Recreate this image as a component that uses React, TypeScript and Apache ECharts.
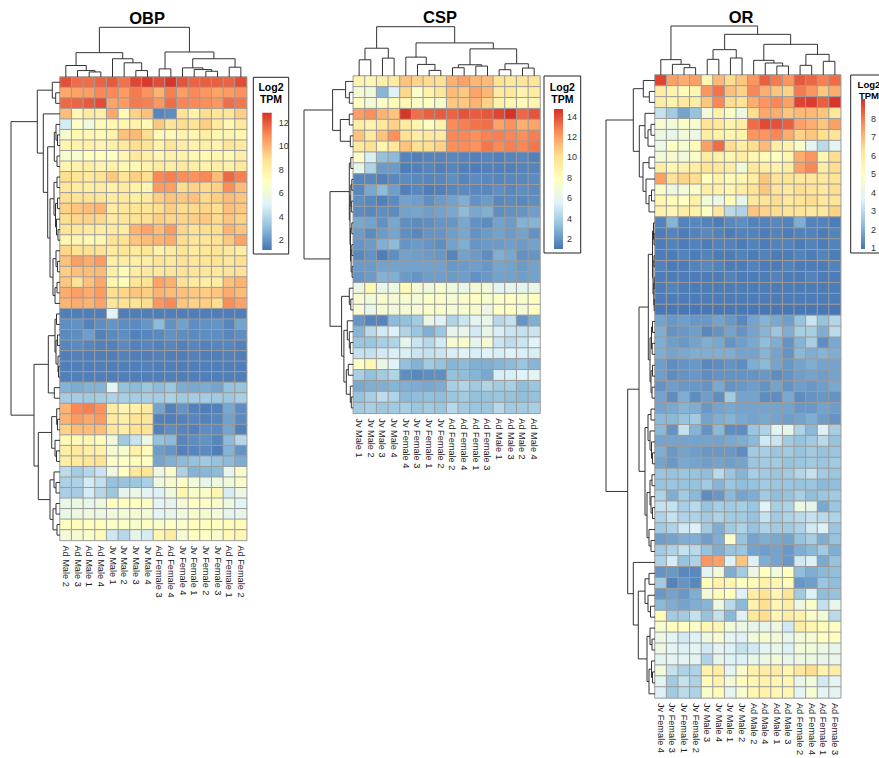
import React, { useEffect, useRef } from "react";
import * as echarts from "echarts";

const FONT = "'Liberation Sans', Arial, Helvetica, sans-serif";
const PALETTE = ["#4575B4", "#91BFDB", "#E0F3F8", "#FFFFBF", "#FEE090", "#FC8D59", "#D73027"];

type Tree = number | [number, Tree, Tree];

// ---------------- OBP ----------------
const obpCols = ["Ad Male 2", "Ad Male 3", "Ad Male 1", "Ad Male 4", "Jv Male 1", "Jv Male 2", "Jv Male 3", "Jv Male 4", "Ad Female 3", "Ad Female 4", "Jv Female 4", "Jv Female 1", "Jv Female 2", "Jv Female 3", "Ad Female 1", "Ad Female 2"];
const obpValues: number[][] = [
  [12.2, 11.6, 11.6, 11.8, 12.0, 11.5, 12.4, 12.7, 12.3, 12.8, 12.1, 11.8, 11.9, 11.9, 11.8, 12.3],
  [10.3, 10.4, 10.5, 11.0, 11.0, 10.6, 11.3, 10.8, 10.0, 11.2, 10.5, 11.0, 10.7, 10.4, 10.6, 10.8],
  [11.7, 11.8, 12.0, 12.3, 10.4, 10.6, 11.3, 11.2, 10.7, 11.6, 11.1, 11.0, 10.9, 10.7, 11.6, 11.4],
  [9.8, 7.5, 8.3, 8.0, 10.3, 7.3, 9.3, 9.7, 1.6, 1.8, 8.8, 7.8, 9.0, 8.6, 8.6, 9.4],
  [4.8, 6.8, 6.0, 7.3, 7.5, 7.6, 7.8, 7.3, 9.5, 8.5, 9.0, 8.6, 9.4, 8.3, 7.5, 8.4],
  [6.5, 7.4, 7.5, 7.4, 7.8, 9.7, 9.9, 9.0, 7.3, 7.4, 7.7, 7.6, 8.0, 7.6, 7.7, 7.6],
  [7.6, 7.8, 7.9, 7.7, 8.0, 8.4, 9.0, 8.7, 7.8, 8.6, 8.1, 7.8, 8.0, 7.7, 8.6, 8.3],
  [6.5, 6.5, 7.0, 7.0, 6.8, 7.6, 8.4, 8.0, 7.5, 7.8, 7.8, 7.6, 7.4, 7.6, 7.4, 8.0],
  [7.6, 7.8, 8.0, 7.7, 7.9, 7.5, 7.4, 7.8, 8.2, 8.0, 8.3, 8.1, 7.8, 8.0, 7.9, 8.4],
  [9.0, 8.6, 8.4, 8.7, 9.5, 8.6, 9.4, 9.0, 11.0, 11.2, 10.9, 10.8, 11.0, 9.8, 11.7, 11.2],
  [8.4, 8.2, 8.1, 8.2, 7.9, 8.3, 7.8, 7.6, 10.6, 10.5, 9.0, 9.3, 9.1, 9.3, 10.9, 9.8],
  [8.9, 8.7, 8.8, 8.6, 8.2, 8.4, 8.0, 8.3, 9.4, 9.6, 9.5, 9.7, 9.1, 9.4, 9.8, 9.6],
  [9.3, 9.6, 9.8, 10.0, 8.2, 8.5, 8.7, 8.6, 9.0, 9.4, 9.0, 9.1, 9.2, 8.9, 9.7, 9.5],
  [9.0, 9.2, 9.3, 9.1, 8.3, 8.5, 8.8, 8.9, 9.4, 9.2, 9.2, 9.4, 9.5, 9.1, 9.6, 9.3],
  [8.6, 8.5, 8.3, 8.2, 8.3, 8.2, 10.0, 10.4, 9.8, 10.6, 9.2, 8.8, 9.0, 9.0, 10.0, 9.6],
  [7.6, 7.7, 7.4, 7.6, 8.7, 8.8, 9.6, 9.8, 10.0, 10.2, 9.0, 8.6, 8.5, 8.8, 9.5, 10.4],
  [9.2, 8.8, 8.9, 8.8, 8.3, 8.6, 8.4, 8.6, 7.8, 8.2, 8.6, 8.3, 8.5, 8.7, 8.4, 8.0],
  [9.7, 10.5, 10.2, 10.6, 8.0, 8.2, 8.0, 8.1, 8.6, 8.4, 8.8, 8.5, 8.6, 8.7, 8.5, 8.9],
  [9.4, 9.7, 9.8, 9.9, 8.0, 7.4, 8.2, 8.4, 8.4, 8.6, 8.8, 8.6, 8.5, 8.4, 8.7, 8.8],
  [9.6, 8.7, 9.7, 10.3, 7.6, 7.2, 8.6, 8.8, 10.4, 10.1, 8.8, 8.3, 8.0, 8.2, 9.7, 10.0],
  [10.2, 10.5, 10.2, 10.6, 9.0, 9.2, 9.6, 9.4, 10.0, 9.8, 9.7, 9.5, 9.4, 9.6, 10.2, 9.8],
  [10.0, 10.2, 10.0, 10.4, 8.6, 8.8, 8.7, 9.0, 10.7, 11.0, 9.6, 9.3, 9.4, 9.0, 10.9, 10.4],
  [1.4, 1.4, 1.4, 1.4, 5.2, 1.4, 1.4, 1.4, 1.4, 1.4, 1.4, 1.4, 1.4, 1.4, 1.4, 1.4],
  [1.8, 1.9, 1.5, 1.8, 2.0, 1.8, 1.7, 2.0, 3.0, 1.9, 2.3, 1.8, 1.9, 2.0, 1.6, 2.4],
  [1.7, 1.8, 2.2, 1.5, 1.7, 1.8, 1.5, 1.6, 1.7, 1.9, 1.8, 1.7, 1.8, 1.8, 1.6, 1.8],
  [1.6, 1.7, 1.6, 1.5, 1.5, 1.7, 1.5, 1.6, 1.5, 1.6, 1.5, 1.6, 1.5, 1.6, 1.6, 1.5],
  [1.4, 1.5, 1.4, 1.4, 1.4, 1.5, 1.4, 1.4, 1.5, 1.4, 1.4, 1.5, 1.4, 1.4, 1.5, 1.4],
  [1.4, 1.4, 1.4, 1.4, 1.4, 1.4, 1.4, 1.5, 1.4, 1.4, 1.4, 1.4, 1.4, 1.4, 1.4, 1.4],
  [1.4, 1.4, 1.4, 1.4, 1.4, 1.4, 1.4, 1.4, 1.4, 1.4, 1.4, 1.4, 1.4, 1.4, 1.4, 1.4],
  [2.8, 2.6, 2.8, 2.8, 5.2, 3.2, 3.0, 3.4, 3.0, 3.4, 2.6, 2.5, 2.6, 2.4, 3.2, 3.3],
  [3.6, 3.6, 3.5, 3.6, 3.8, 3.7, 3.6, 3.7, 3.6, 3.8, 3.5, 3.6, 3.6, 3.5, 3.4, 3.7],
  [10.0, 11.0, 11.2, 10.8, 8.2, 7.6, 7.9, 8.2, 2.4, 1.5, 2.0, 1.5, 1.4, 1.5, 2.5, 1.8],
  [10.0, 10.6, 10.3, 10.6, 8.3, 8.0, 8.6, 8.5, 1.5, 1.4, 1.5, 1.6, 1.5, 1.6, 2.3, 1.7],
  [9.3, 9.8, 9.8, 9.8, 8.5, 8.2, 8.8, 8.8, 1.5, 1.8, 1.6, 1.5, 1.8, 1.7, 2.4, 1.5],
  [7.3, 7.4, 7.5, 7.1, 6.0, 3.5, 4.5, 5.8, 3.2, 3.0, 1.6, 1.8, 1.9, 1.6, 3.0, 4.0],
  [8.0, 8.4, 8.0, 7.8, 6.4, 6.6, 7.8, 7.2, 2.2, 2.0, 1.5, 1.6, 1.7, 1.4, 2.8, 2.0],
  [8.0, 8.3, 8.6, 8.8, 6.8, 6.9, 7.2, 7.0, 2.4, 2.7, 3.0, 3.2, 3.5, 3.2, 3.0, 2.6],
  [4.2, 3.6, 4.0, 4.5, 6.0, 7.0, 8.4, 8.6, 5.8, 6.6, 3.8, 2.8, 2.9, 3.0, 5.5, 6.6],
  [3.8, 3.8, 4.8, 4.3, 3.2, 3.3, 3.4, 3.7, 6.0, 6.5, 6.8, 6.2, 5.5, 6.0, 6.0, 6.6],
  [3.7, 3.6, 4.8, 4.0, 3.4, 5.4, 5.7, 5.2, 5.0, 6.0, 7.6, 6.6, 6.7, 7.6, 4.8, 5.8],
  [5.6, 5.8, 5.5, 5.9, 7.0, 7.0, 7.0, 6.8, 5.2, 5.4, 6.2, 7.0, 6.8, 6.6, 5.8, 5.2],
  [5.7, 5.9, 6.0, 5.8, 6.0, 6.3, 6.4, 6.2, 5.2, 5.5, 6.0, 6.6, 6.4, 6.2, 5.4, 5.5],
  [7.0, 7.2, 7.0, 7.1, 6.8, 6.8, 6.6, 6.9, 6.6, 6.8, 6.7, 7.1, 7.0, 7.0, 7.2, 7.2],
  [6.2, 6.4, 6.7, 7.3, 4.6, 4.0, 5.4, 4.8, 7.6, 8.2, 6.4, 7.0, 6.8, 6.6, 7.4, 7.6],
];
const obpColTree: Tree = [147, [72, [34, 0, [19, 1, [15, 2, 3]]], [54, 4, [42, 5, [19, 6, 7]]]], [74, [24, 8, 9], [54, [27, 10, [22, 11, [17, 12, 13]]], [29, 14, 15]]]];
const obpRowTree: Tree = [49,
  [22.7, [7.7, 0, [4.3, 1, 2]], [16.7, 3, [12.3, [5.7, [4, 4, [2.5, 5, 6]], [3, 7, 8]], [10, [6, [3, 9, 10], [4.5, [2.5, 11, 12], [3.5, 13, [2, 14, 15]]]], [7, [4, 16, [2.5, 17, 18]], [5, [3, 19, 20], 21]]]]]],
  [26, [11.7, [5, [3.5, 22, 23], [4, [2.5, 24, 25], [2, 26, [1.5, 27, 28]]]], [5.7, 29, 30]], [21.7, [8.3, [3.3, 31, [2.5, 32, 33]], [5, 34, [3.5, 35, 36]]], [10, [6, 37, [4, 38, 39]], [7, [4, 40, 41], [3, 42, 43]]]]]];
const obpTicks = [2, 4, 6, 8, 10, 12];
const obpRange = [1.15, 12.88];

// ---------------- CSP ----------------
const cspCols = ["Jv Male 1", "Jv Male 2", "Jv Male 3", "Jv Male 4", "Jv Female 4", "Jv Female 3", "Jv Female 1", "Jv Female 2", "Ad Female 2", "Ad Female 4", "Ad Female 1", "Ad Female 3", "Ad Male 1", "Ad Male 3", "Ad Male 2", "Ad Male 4"];
const cspValues: number[][] = [
  [8.7, 8.4, 9.0, 9.3, 11.0, 10.5, 10.3, 10.0, 11.5, 11.9, 11.3, 11.2, 10.0, 9.6, 9.8, 9.9],
  [7.0, 6.8, 3.0, 5.5, 10.4, 7.6, 8.8, 9.6, 11.2, 10.8, 11.8, 11.3, 9.4, 9.6, 8.8, 9.3],
  [7.8, 7.0, 7.5, 8.2, 8.4, 7.6, 7.8, 7.3, 10.8, 10.8, 11.4, 10.6, 8.8, 8.5, 8.2, 8.6],
  [12.0, 12.4, 11.4, 11.0, 14.6, 13.2, 13.6, 13.7, 13.5, 13.9, 13.7, 13.8, 14.2, 14.7, 13.4, 13.9],
  [9.2, 8.6, 9.5, 10.6, 9.4, 8.6, 7.8, 8.8, 12.5, 12.8, 13.1, 13.2, 11.8, 12.3, 11.5, 11.8],
  [11.0, 9.5, 11.0, 12.4, 10.1, 9.2, 9.5, 9.4, 12.6, 12.6, 12.4, 12.7, 12.8, 12.6, 12.4, 12.8],
  [9.5, 10.0, 8.6, 9.6, 11.0, 10.0, 10.2, 10.6, 12.4, 12.5, 12.3, 13.0, 12.5, 12.8, 12.6, 13.0],
  [7.6, 5.4, 3.4, 3.2, 1.5, 1.4, 1.5, 1.5, 1.6, 1.5, 1.4, 1.5, 1.4, 1.5, 1.6, 1.4],
  [6.2, 4.2, 2.2, 2.2, 1.3, 1.4, 1.5, 1.4, 1.5, 1.4, 1.3, 1.4, 1.4, 1.4, 1.5, 1.5],
  [1.5, 1.6, 1.4, 1.6, 1.7, 1.6, 1.5, 1.6, 1.8, 1.5, 1.7, 1.6, 1.5, 1.6, 1.6, 1.7],
  [1.6, 2.6, 3.2, 2.3, 1.4, 1.6, 1.3, 1.4, 1.6, 1.7, 1.6, 1.6, 1.8, 1.6, 1.8, 1.7],
  [1.8, 1.6, 1.4, 1.7, 2.4, 2.3, 1.8, 2.2, 2.4, 2.8, 1.9, 2.2, 1.6, 1.7, 1.6, 1.8],
  [1.7, 1.6, 1.8, 1.7, 2.4, 2.5, 2.3, 2.4, 2.6, 3.2, 2.6, 2.8, 1.8, 1.9, 2.0, 2.3],
  [2.6, 2.4, 1.9, 2.6, 1.8, 1.7, 1.8, 2.0, 2.0, 2.6, 1.9, 1.7, 2.4, 2.2, 2.9, 3.0],
  [2.2, 1.7, 2.2, 2.5, 1.8, 1.6, 2.0, 2.0, 2.3, 2.6, 1.9, 2.2, 2.4, 2.2, 2.4, 1.9],
  [2.0, 2.2, 2.8, 3.2, 2.0, 2.2, 2.0, 1.8, 2.4, 2.8, 2.0, 2.2, 2.2, 2.3, 2.2, 2.4],
  [1.6, 1.9, 1.3, 1.8, 2.4, 2.3, 2.2, 2.1, 1.5, 2.4, 2.2, 1.8, 2.8, 2.6, 1.9, 2.0],
  [2.2, 2.2, 2.4, 2.4, 2.4, 2.4, 2.4, 2.4, 2.1, 2.2, 2.3, 2.1, 2.5, 2.4, 2.2, 2.4],
  [2.0, 2.2, 2.9, 2.8, 2.2, 2.0, 2.3, 2.3, 2.2, 2.3, 1.9, 2.1, 2.4, 2.4, 2.3, 2.4],
  [6.4, 8.5, 6.2, 6.5, 8.2, 7.0, 6.6, 7.2, 6.6, 6.3, 7.0, 6.8, 5.8, 6.2, 6.0, 6.3],
  [7.2, 6.8, 7.4, 7.0, 7.2, 7.0, 7.6, 7.5, 7.0, 7.5, 7.7, 7.3, 7.6, 7.8, 7.4, 7.8],
  [7.2, 6.2, 7.1, 6.8, 7.0, 7.0, 7.5, 7.4, 7.0, 7.3, 7.3, 6.4, 7.7, 7.8, 7.0, 7.7],
  [2.0, 1.5, 1.5, 3.2, 3.4, 3.8, 6.4, 5.6, 4.2, 5.0, 5.8, 6.2, 4.4, 4.8, 2.0, 2.8],
  [3.0, 4.5, 5.2, 5.5, 4.2, 3.6, 2.8, 3.6, 6.0, 6.2, 5.2, 6.2, 5.4, 5.0, 4.8, 5.0],
  [3.6, 3.6, 4.0, 4.2, 6.0, 5.0, 4.4, 5.2, 7.2, 7.4, 6.0, 7.0, 5.0, 4.6, 5.0, 5.6],
  [4.8, 4.8, 5.2, 5.4, 5.4, 5.0, 4.8, 5.0, 5.4, 5.6, 5.4, 5.6, 5.4, 5.6, 5.4, 5.4],
  [7.6, 8.4, 6.4, 5.6, 3.4, 2.9, 3.8, 3.5, 3.0, 3.2, 2.8, 2.8, 3.0, 3.2, 3.6, 3.0],
  [4.0, 3.4, 3.8, 4.2, 1.8, 1.6, 1.8, 1.8, 3.4, 3.3, 3.0, 2.6, 5.4, 5.4, 5.6, 5.8],
  [2.6, 2.8, 2.8, 3.0, 2.8, 2.7, 2.6, 2.7, 4.0, 4.2, 3.8, 4.2, 3.8, 4.0, 3.3, 3.6],
  [3.5, 4.0, 4.6, 4.2, 3.2, 3.3, 3.4, 3.3, 3.6, 3.8, 3.4, 3.5, 3.6, 3.5, 3.3, 3.4],
  [3.8, 4.0, 3.7, 3.8, 4.0, 3.6, 3.8, 3.6, 4.4, 3.8, 3.6, 3.6, 4.4, 3.8, 3.8, 4.0],
];
const cspColTree: Tree = [149, [84, [49, 0, 1], [54, 2, 3]], [100, [57, 4, [35, 5, [17, 6, 7]]], [82, [34, [25, 8, 9], [30, 10, 11]], [37, [19, 12, 13], [24, 14, 15]]]]];
const cspRowTree: Tree = [49.3,
  [20.7, [7.7, 0, [4, 1, 2]], [13, [4, 3, 4], [3, 5, 6]]],
  [23.3, [4, [2.5, 7, 8], [3.3, [2.5, [1.5, 9, 10], [2, 11, 12]], [2.8, [1.5, 13, 14], [2.2, [1.5, 15, 16], [1.2, 17, 18]]]]],
    [11.7, [4, 19, [2.5, 20, 21]], [9.4, [6, 22, [4, 23, [3, 24, 25]]], [7, [5, 26, 27], [3, 28, [2, 29, 30]]]]]]];
const cspTicks = [2, 4, 6, 8, 10, 12, 14];
const cspRange = [1.02, 14.75];

// ---------------- OR ----------------
const orCols = ["Jv Female 4", "Jv Female 3", "Jv Female 1", "Jv Female 2", "Jv Male 3", "Jv Male 4", "Jv Male 1", "Jv Male 2", "Ad Male 2", "Ad Male 4", "Ad Male 1", "Ad Male 3", "Ad Female 2", "Ad Female 4", "Ad Female 1", "Ad Female 3"];
const orValues: number[][] = [
  [8.8, 7.4, 7.2, 7.4, 5.4, 7.0, 6.4, 6.8, 7.6, 8.4, 8.0, 7.6, 8.5, 8.3, 7.9, 8.2],
  [5.8, 5.5, 5.2, 5.4, 7.6, 8.1, 6.9, 6.6, 7.8, 7.2, 6.8, 6.6, 8.0, 7.6, 6.8, 7.2],
  [5.8, 5.6, 6.0, 5.8, 6.8, 7.8, 6.4, 6.2, 7.2, 7.6, 7.8, 7.4, 8.8, 8.9, 8.4, 9.0],
  [3.2, 2.6, 1.8, 2.4, 4.4, 5.6, 4.8, 4.2, 6.4, 7.3, 7.2, 6.8, 7.0, 7.0, 6.8, 6.0],
  [4.6, 4.4, 4.8, 4.6, 6.2, 6.0, 5.6, 5.8, 8.2, 8.7, 8.6, 8.4, 7.4, 7.2, 6.8, 7.4],
  [4.2, 4.0, 4.4, 4.2, 5.8, 5.6, 5.4, 5.6, 7.6, 7.6, 7.8, 7.2, 6.6, 6.8, 6.4, 6.2],
  [4.2, 5.0, 4.6, 5.2, 7.4, 8.2, 6.4, 5.8, 6.4, 7.0, 5.8, 5.6, 4.8, 3.8, 3.0, 3.8],
  [4.4, 4.6, 4.4, 4.8, 5.8, 5.6, 5.4, 5.8, 5.4, 5.2, 5.0, 5.4, 7.2, 7.6, 5.4, 6.4],
  [5.8, 5.4, 5.6, 5.8, 6.2, 6.0, 5.8, 4.4, 6.0, 5.8, 5.6, 5.8, 7.4, 7.8, 5.8, 6.4],
  [7.4, 6.2, 6.6, 6.4, 5.0, 5.6, 5.2, 5.4, 5.8, 6.8, 6.2, 6.2, 6.0, 6.0, 6.0, 6.2],
  [4.8, 4.2, 4.4, 4.8, 5.8, 5.6, 5.4, 5.8, 6.2, 6.8, 6.2, 6.0, 6.4, 6.2, 6.0, 6.4],
  [5.4, 5.2, 5.0, 5.6, 4.4, 4.2, 5.2, 4.0, 6.0, 6.2, 6.4, 6.0, 6.2, 6.4, 6.0, 6.2],
  [5.6, 5.4, 5.8, 5.6, 5.0, 6.0, 3.0, 2.8, 6.8, 6.6, 6.4, 6.2, 6.2, 6.0, 6.0, 6.6],
  [1.2, 2.1, 1.2, 1.3, 1.2, 1.1, 1.3, 1.4, 1.2, 1.2, 1.3, 1.2, 2.0, 1.2, 1.2, 1.1],
  [1.1, 1.2, 1.1, 1.2, 1.3, 1.2, 1.1, 1.2, 1.2, 1.1, 1.2, 1.1, 1.2, 1.2, 1.1, 1.2],
  [1.1, 1.2, 1.1, 1.2, 1.1, 1.2, 1.2, 1.1, 1.2, 1.1, 1.2, 1.2, 1.1, 1.2, 1.1, 1.2],
  [1.1, 1.1, 1.2, 1.1, 1.2, 1.1, 1.1, 1.2, 1.1, 1.2, 1.1, 1.1, 1.2, 1.1, 1.2, 1.1],
  [1.2, 1.1, 1.1, 1.2, 1.3, 1.2, 1.1, 1.1, 1.2, 1.1, 1.1, 1.2, 1.1, 1.1, 1.1, 1.2],
  [1.1, 1.1, 1.1, 1.1, 1.1, 1.1, 1.2, 1.1, 1.1, 1.1, 1.2, 1.1, 1.1, 1.2, 1.1, 1.1],
  [1.1, 1.2, 1.1, 1.1, 1.1, 1.1, 1.1, 1.1, 1.1, 1.1, 1.1, 1.1, 1.1, 1.1, 1.1, 1.1],
  [1.1, 1.1, 1.1, 1.1, 1.1, 1.1, 1.1, 1.1, 1.1, 1.1, 1.1, 1.1, 1.1, 1.1, 1.1, 1.1],
  [1.0, 1.0, 1.0, 1.0, 1.0, 1.0, 1.0, 1.0, 1.0, 1.0, 1.0, 1.0, 1.0, 1.0, 1.0, 1.0],
  [1.8, 1.6, 1.7, 1.6, 1.6, 1.8, 1.6, 1.3, 1.8, 2.1, 1.9, 1.7, 2.4, 3.3, 2.4, 2.9],
  [2.0, 1.5, 1.6, 1.7, 1.3, 1.5, 1.8, 1.5, 1.8, 2.1, 2.5, 2.0, 2.7, 2.7, 2.0, 3.0],
  [2.0, 1.7, 1.6, 1.8, 2.0, 1.9, 1.5, 1.7, 1.9, 2.3, 2.0, 1.5, 2.1, 2.7, 1.4, 1.9],
  [2.0, 1.8, 1.9, 2.0, 2.0, 2.0, 2.0, 1.8, 1.8, 2.1, 1.8, 1.5, 2.2, 2.0, 2.1, 2.0],
  [1.7, 1.4, 1.5, 1.6, 1.3, 1.4, 1.5, 1.4, 2.0, 2.2, 1.8, 1.6, 1.8, 2.0, 1.8, 1.8],
  [1.7, 1.4, 1.5, 1.6, 1.4, 1.5, 1.5, 1.5, 1.5, 1.6, 1.4, 1.5, 1.7, 1.8, 1.7, 1.8],
  [1.5, 1.7, 1.6, 1.6, 1.5, 1.9, 1.5, 1.6, 1.7, 1.5, 1.8, 1.5, 1.7, 1.6, 1.7, 1.9],
  [1.8, 1.4, 2.0, 1.4, 1.7, 1.4, 2.6, 1.8, 1.8, 1.4, 1.4, 1.9, 1.4, 1.5, 1.6, 1.5],
  [1.8, 1.9, 2.1, 2.0, 1.6, 1.8, 1.9, 1.8, 1.8, 1.8, 1.8, 1.8, 1.6, 1.6, 1.8, 1.7],
  [2.2, 2.2, 2.4, 2.6, 1.8, 2.0, 2.1, 1.9, 1.8, 1.9, 1.8, 1.7, 1.8, 2.0, 1.7, 1.5],
  [2.2, 1.5, 3.2, 2.1, 1.5, 2.2, 1.4, 1.4, 2.5, 2.8, 3.8, 3.9, 2.8, 2.2, 3.6, 2.7],
  [1.8, 1.8, 1.8, 1.8, 1.8, 1.8, 1.9, 2.0, 2.2, 3.4, 3.3, 2.6, 2.4, 2.6, 3.0, 2.4],
  [2.0, 1.6, 1.8, 1.7, 1.6, 1.6, 1.6, 1.4, 2.6, 2.7, 2.5, 2.6, 2.4, 2.6, 2.4, 2.5],
  [1.8, 1.6, 1.9, 1.8, 1.7, 1.8, 1.7, 1.8, 2.5, 2.6, 2.6, 2.4, 2.5, 2.6, 2.5, 2.6],
  [2.5, 2.4, 2.5, 2.4, 2.3, 3.0, 2.5, 2.1, 2.7, 2.6, 2.5, 2.6, 2.9, 3.2, 2.6, 2.5],
  [2.4, 2.5, 2.4, 2.4, 2.6, 2.1, 2.5, 2.3, 2.4, 2.6, 2.5, 2.5, 2.4, 2.5, 2.2, 2.3],
  [2.8, 2.0, 2.6, 2.2, 1.4, 1.6, 2.2, 1.8, 2.0, 2.6, 2.3, 2.4, 2.7, 2.3, 2.5, 2.6],
  [3.2, 3.2, 2.7, 3.0, 2.4, 2.7, 2.6, 2.7, 2.5, 3.7, 2.7, 2.8, 4.2, 3.9, 1.9, 2.5],
  [2.8, 3.2, 2.8, 2.8, 2.6, 2.8, 2.6, 2.6, 2.4, 3.2, 2.6, 2.8, 3.0, 3.2, 3.0, 2.8],
  [2.6, 2.8, 3.4, 3.6, 2.6, 2.0, 2.6, 2.8, 2.4, 2.8, 2.6, 2.6, 2.8, 3.4, 3.6, 2.5],
  [1.7, 1.8, 2.0, 2.0, 1.7, 2.0, 4.8, 2.4, 1.8, 2.0, 1.9, 1.8, 2.4, 2.7, 2.0, 2.4],
  [2.6, 2.8, 3.2, 3.0, 2.4, 2.0, 2.4, 2.5, 1.8, 1.7, 1.8, 1.6, 2.0, 2.2, 2.6, 2.0],
  [2.8, 3.5, 2.4, 2.8, 7.6, 7.4, 3.6, 6.8, 3.6, 2.0, 1.8, 1.6, 3.4, 3.6, 1.9, 2.4],
  [1.5, 1.6, 1.3, 1.3, 3.8, 4.4, 2.0, 2.6, 4.2, 5.0, 4.4, 5.0, 2.3, 2.0, 2.2, 2.3],
  [2.6, 1.2, 1.5, 1.3, 5.2, 5.6, 5.4, 5.0, 5.2, 5.6, 5.4, 5.2, 1.6, 1.7, 2.5, 2.3],
  [1.6, 1.8, 1.6, 2.0, 4.5, 5.2, 5.0, 3.6, 5.8, 6.2, 5.4, 6.2, 2.6, 3.6, 2.3, 2.4],
  [2.2, 2.0, 1.8, 2.0, 2.1, 4.2, 3.0, 2.2, 5.6, 6.3, 5.4, 5.8, 4.2, 4.8, 3.2, 4.0],
  [5.2, 2.6, 2.6, 3.2, 2.4, 3.2, 2.2, 3.6, 6.0, 6.4, 5.4, 5.8, 5.6, 4.8, 4.4, 3.0],
  [4.6, 5.2, 5.0, 4.8, 5.4, 5.4, 4.4, 4.2, 4.0, 3.9, 4.2, 3.4, 5.8, 5.4, 5.2, 5.0],
  [4.2, 3.8, 3.4, 3.6, 4.2, 4.6, 3.8, 3.6, 4.4, 4.6, 4.4, 4.0, 4.4, 4.6, 5.0, 5.0],
  [4.2, 3.8, 3.6, 3.8, 3.4, 3.8, 3.6, 3.2, 3.4, 3.8, 4.0, 3.6, 4.4, 4.4, 4.2, 4.0],
  [3.8, 3.8, 3.8, 3.8, 2.8, 4.0, 3.6, 3.6, 4.0, 4.2, 4.4, 4.0, 4.2, 4.2, 4.0, 4.0],
  [4.4, 3.2, 2.8, 2.8, 5.6, 5.8, 3.8, 4.6, 5.6, 5.8, 5.8, 5.4, 6.0, 6.4, 5.6, 5.8],
  [3.8, 2.6, 3.2, 2.8, 5.2, 5.6, 4.4, 5.2, 5.4, 5.6, 5.4, 5.4, 4.0, 4.4, 3.4, 3.8],
  [3.6, 2.6, 3.0, 2.8, 4.8, 5.2, 3.8, 4.6, 5.4, 5.6, 5.4, 5.4, 3.8, 4.6, 3.8, 3.8],
];
const orColTree: Tree = [147, [46, 0, [32, 1, [22, 2, 3]]], [122, [76, [47, 4, 5], [51, 6, 7]], [92, [44, 8, [36, 9, [27, 10, 11]]], [62, [29, 12, 13], [41, 14, 15]]]]];
const orRowTree: Tree = [49,
  [21.7, [11.7, 0, [5.7, 1, 2]], [15.7, [10, 3, [7, [4, 4, 5], 6]], [12, [6, 7, 8], [9, 9, [6, [3.5, 10, 11], 12]]]]],
  [27.3,
    [16, [6.7, [2.5, [1.5, 13, [1, 14, 15]], [2, [1, 16, 17], [1.2, [0.8, 18, 19], [0.8, 20, 21]]]], [5, [3.5, [2.5, 22, 23], [2.8, 24, 25]], [4, [2.5, 26, 27], [3, 28, 29]]]],
      [10, [7, [4, 30, 31], [5, 32, [3.5, 33, [2.5, 34, 35]]]], [8, [5, [3, 36, 37], [4, 38, [2.5, 39, 40]]], [6, 41, [4, 42, 43]]]]],
    [21.7, 44, [16.7, [10, [6, 45, 46], [7, 47, [4.5, 48, 49]]], [8, [5, 50, [3, 51, 52]], [6, [3.5, 53, [2.5, 54, 55]], 56]]]]]];
const orTicks = [1, 2, 3, 4, 5, 6, 7, 8];
const orRange = [0.95, 9.08];

// ---------------- layout ----------------
const panels = [
  {
    title: "OBP", cols: obpCols, values: obpValues, colTree: obpColTree, rowTree: obpRowTree, ticks: obpTicks, range: obpRange,
    hm: { left: 60, top: 77, width: 186.7, height: 463.4 }, topTop: 27.3, leftLeft: 11,
    titleX: 147, titleY: 17.5,
    box: { x: 253.3, y: 77.3, w: 35.4, h: 176.7 }, bar: { x: 262.3, y: 112.7, w: 9.4, h: 137.3 },
    logY: 86.7, tpmY: 99, legendFont: 10.5, labelMargin: 7,
  },
  {
    title: "CSP", cols: cspCols, values: cspValues, colTree: cspColTree, rowTree: cspRowTree, ticks: cspTicks, range: cspRange,
    hm: { left: 353.3, top: 76, width: 186.7, height: 337.3 }, topTop: 26.7, leftLeft: 304,
    titleX: 440, titleY: 16.7,
    box: { x: 544, y: 76, w: 36.7, h: 177 }, bar: { x: 554, y: 109, w: 9, h: 140 },
    logY: 86.5, tpmY: 99, legendFont: 10.5, labelMargin: 4,
  },
  {
    title: "OR", cols: orCols, values: orValues, colTree: orColTree, rowTree: orRowTree, ticks: orTicks, range: orRange,
    hm: { left: 655, top: 75, width: 185.7, height: 624.3 }, topTop: 26, leftLeft: 606,
    titleX: 741, titleY: 16.7,
    box: { x: 850.7, y: 75, w: 36.5, h: 178 }, bar: { x: 861, y: 99, w: 9, h: 150 },
    logY: 84.5, tpmY: 95.3, legendFont: 9.5, labelMargin: 6,
  },
];

function layoutTree(t: Tree, segs: number[][]): { p: number; h: number } {
  if (typeof t === "number") return { p: t + 0.5, h: 0 };
  const a = layoutTree(t[1], segs);
  const b = layoutTree(t[2], segs);
  segs.push([a.p, b.p, a.h, b.h, t[0]]);
  return { p: (a.p + b.p) / 2, h: t[0] };
}

const LINE = { stroke: "#333", lineWidth: 1, fill: "none" };

function buildOption() {
  const grid: any[] = [];
  const xAxis: any[] = [];
  const yAxis: any[] = [];
  const series: any[] = [];
  const visualMap: any[] = [];
  const elements: any[] = [];

  panels.forEach((p) => {
    const nRow = p.values.length;
    const nCol = p.cols.length;
    const { left, top, width, height } = p.hm;

    // heatmap
    let gi = grid.length;
    grid.push({ left, top, width, height });
    xAxis.push({
      type: "category", gridIndex: gi, data: p.cols, position: "bottom",
      axisLine: { show: false }, axisTick: { show: false }, splitLine: { show: false },
      axisLabel: { rotate: -90, interval: 0, fontSize: 9.2, color: "#222", margin: 5, fontFamily: FONT },
    });
    yAxis.push({ type: "category", gridIndex: gi, data: p.values.map((_, i) => String(i)), inverse: true, show: false });
    const data: number[][] = [];
    p.values.forEach((row, r) => row.forEach((v, c) => data.push([c, r, v])));
    visualMap.push({
      type: "continuous", show: false, seriesIndex: series.length, dimension: 2,
      min: p.range[0], max: p.range[1], inRange: { color: PALETTE },
    });
    series.push({
      type: "heatmap", xAxisIndex: xAxis.length - 1, yAxisIndex: yAxis.length - 1, data,
      itemStyle: { borderColor: "#9c9c9c", borderWidth: 1 }, emphasis: { disabled: true }, progressive: 0,
    });

    // top dendrogram
    const colSegs: number[][] = [];
    layoutTree(p.colTree, colSegs);
    const colRoot = (p.colTree as any)[0] as number;
    gi = grid.length;
    grid.push({ left, top: p.topTop, width, height: top - p.topTop });
    xAxis.push({ type: "value", gridIndex: gi, min: 0, max: nCol, show: false });
    yAxis.push({ type: "value", gridIndex: gi, min: 0, max: colRoot, show: false });
    series.push({
      type: "custom", xAxisIndex: xAxis.length - 1, yAxisIndex: yAxis.length - 1, data: colSegs, silent: true,
      renderItem: (_: any, api: any) => {
        const x1 = api.value(0), x2 = api.value(1), h1 = api.value(2), h2 = api.value(3), h = api.value(4);
        return {
          type: "polyline",
          shape: { points: [api.coord([x1, h1]), api.coord([x1, h]), api.coord([x2, h]), api.coord([x2, h2])] },
          style: LINE,
        };
      },
    });

    // left dendrogram
    const rowSegs: number[][] = [];
    layoutTree(p.rowTree, rowSegs);
    const rowRoot = (p.rowTree as any)[0] as number;
    gi = grid.length;
    grid.push({ left: p.leftLeft, top, width: left - p.leftLeft, height });
    xAxis.push({ type: "value", gridIndex: gi, min: 0, max: rowRoot, inverse: true, show: false });
    yAxis.push({ type: "value", gridIndex: gi, min: 0, max: nRow, inverse: true, show: false });
    series.push({
      type: "custom", xAxisIndex: xAxis.length - 1, yAxisIndex: yAxis.length - 1, data: rowSegs, silent: true,
      renderItem: (_: any, api: any) => {
        const y1 = api.value(0), y2 = api.value(1), h1 = api.value(2), h2 = api.value(3), h = api.value(4);
        return {
          type: "polyline",
          shape: { points: [api.coord([h1, y1]), api.coord([h, y1]), api.coord([h, y2]), api.coord([h2, y2])] },
          style: LINE,
        };
      },
    });

    // legend colour bar
    gi = grid.length;
    grid.push({ left: p.bar.x, top: p.bar.y, width: p.bar.w, height: p.bar.h });
    xAxis.push({ type: "value", gridIndex: gi, min: 0, max: 1, show: false });
    yAxis.push({
      type: "value", gridIndex: gi, min: p.range[0], max: p.range[1], position: "right",
      axisLine: { show: false }, axisTick: { show: false }, splitLine: { show: false },
      axisLabel: { customValues: p.ticks, fontSize: 9, color: "#333", margin: p.labelMargin, fontFamily: FONT },
    });
    const range = p.range;
    series.push({
      type: "custom", xAxisIndex: xAxis.length - 1, yAxisIndex: yAxis.length - 1, data: [[0]], silent: true,
      renderItem: (_: any, api: any) => {
        const a = api.coord([0, range[1]]);
        const b = api.coord([1, range[0]]);
        const stops = PALETTE.slice().reverse().map((c, i) => ({ offset: i / (PALETTE.length - 1), color: c }));
        return {
          type: "rect",
          shape: { x: a[0], y: a[1], width: b[0] - a[0], height: b[1] - a[1] },
          style: { fill: new echarts.graphic.LinearGradient(0, 0, 0, 1, stops) },
        };
      },
    });

    // title, legend box and legend title
    elements.push({
      type: "text", x: p.titleX, y: p.titleY,
      style: { text: p.title, fontSize: 16.5, fontWeight: "bold", fontFamily: FONT, fill: "#000", align: "center", verticalAlign: "middle" },
    });
    elements.push({
      type: "rect", z: -10,
      shape: { x: p.box.x, y: p.box.y, width: p.box.w, height: p.box.h },
      style: { fill: "#fff", stroke: "#222", lineWidth: 1 },
    });
    const cx = p.box.x + p.box.w / 2;
    elements.push({
      type: "text", x: cx, y: p.logY,
      style: { text: "Log2", fontSize: p.legendFont, fontWeight: "bold", fontFamily: FONT, fill: "#000", align: "center", verticalAlign: "middle" },
    });
    elements.push({
      type: "text", x: cx, y: p.tpmY,
      style: { text: "TPM", fontSize: p.legendFont, fontWeight: "bold", fontFamily: FONT, fill: "#000", align: "center", verticalAlign: "middle" },
    });
  });

  return {
    animation: false,
    backgroundColor: "#fff",
    textStyle: { fontFamily: FONT },
    grid, xAxis, yAxis, series, visualMap,
    graphic: { elements },
  };
}

export default function App() {
  const ref = useRef<HTMLDivElement>(null);
  useEffect(() => {
    if (!ref.current) return;
    const chart = echarts.init(ref.current, undefined, { renderer: "svg" });
    chart.setOption(buildOption());
    return () => chart.dispose();
  }, []);
  return <div ref={ref} style={{ position: "absolute", left: 0, top: 0, width: 879, height: 758, background: "#fff" }} />;
}
